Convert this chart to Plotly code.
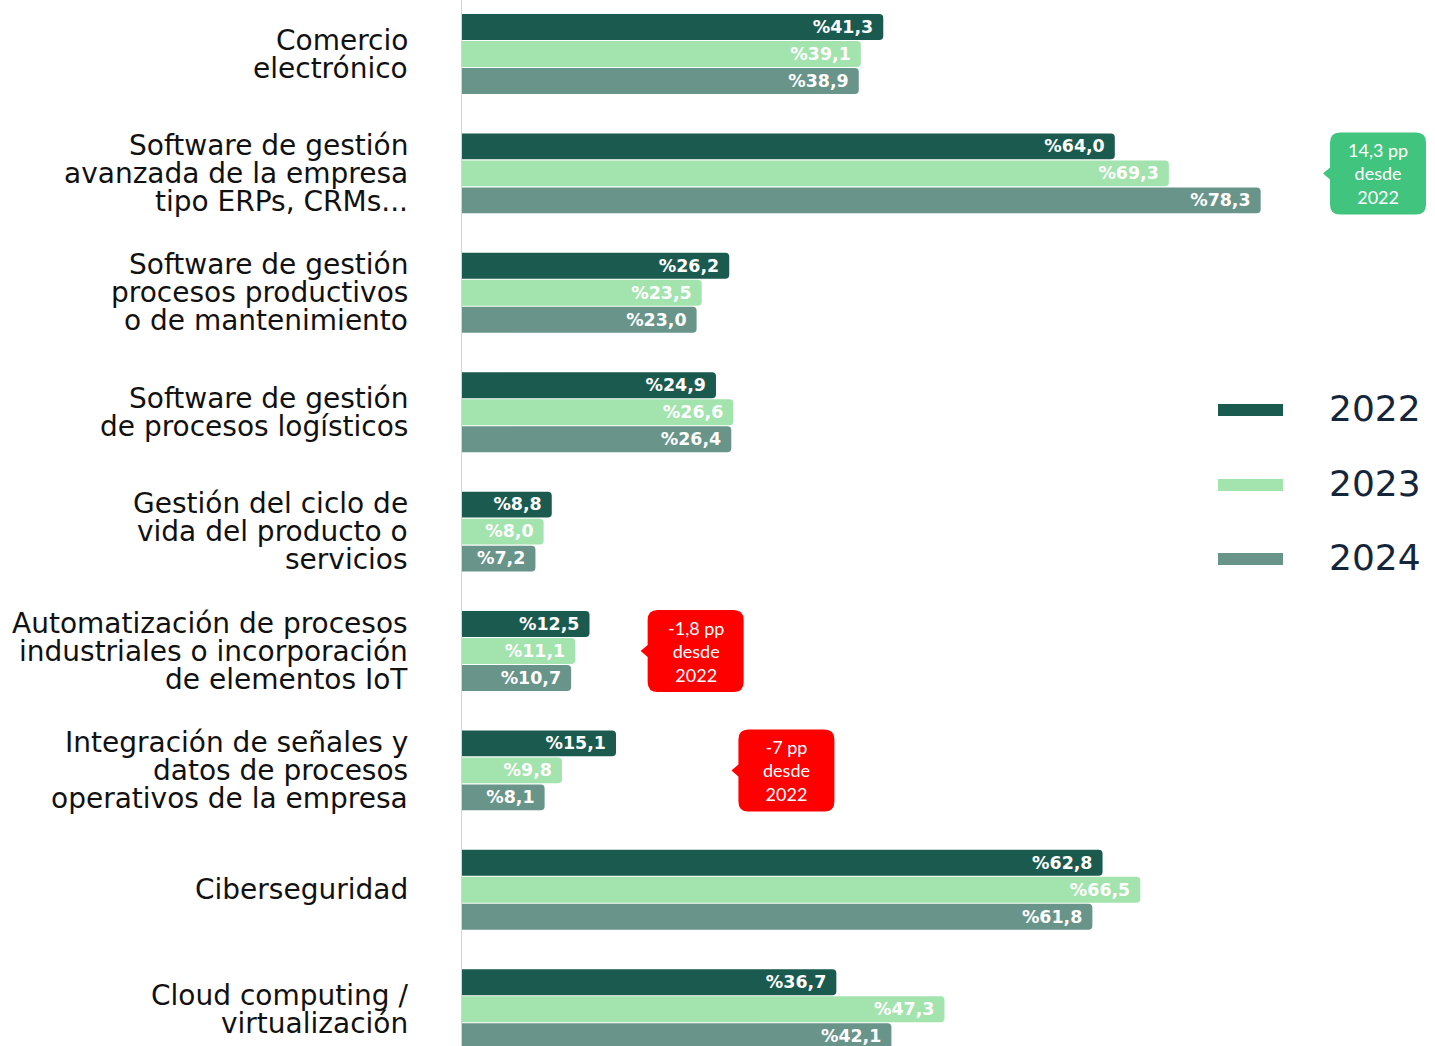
import plotly.graph_objects as go

# ---------------- data ----------------
categories = [
    ["Comercio", "electrónico"],
    ["Software de gestión", "avanzada de la empresa", "tipo ERPs, CRMs..."],
    ["Software de gestión", "procesos productivos", "o de mantenimiento"],
    ["Software de gestión", "de procesos logísticos"],
    ["Gestión del ciclo de", "vida del producto o", "servicios"],
    ["Automatización de procesos", "industriales o incorporación", "de elementos IoT"],
    ["Integración de señales y", "datos de procesos", "operativos de la empresa"],
    ["Ciberseguridad"],
    ["Cloud computing /", "virtualización"],
]
years = ["2022", "2023", "2024"]
values_2022 = [41.3, 64.0, 26.2, 24.9, 8.8, 12.5, 15.1, 62.8, 36.7]
values_2023 = [39.1, 69.3, 23.5, 26.6, 8.0, 11.1, 9.8, 66.5, 47.3]
values_2024 = [38.9, 78.3, 23.0, 26.4, 7.2, 10.7, 8.1, 61.8, 42.1]
series = [values_2022, values_2023, values_2024]
colors = ["#1b5a4f", "#a3e3ad", "#689489"]

# callouts: (category index, x position in data units, colour)
callout_groups = [1, 5, 6]
callout_x = [85.1, 18.2, 27.1]
callout_colors = ["#41c47d", "#ff0000", "#ff0000"]

W, H = 1435, 1046
AXIS_PX = 462
SCALE = 10.2  # px per unit
FIRST_CENTER_PX = 54
GROUP_PITCH_PX = 119.4

cat_names = [" ".join(c) for c in categories]


def fmt(v):
    s = f"{v:.1f}".replace(".", ",")
    return "%" + s


fig = go.Figure()
for yr, vals, col in zip(years, series, colors):
    fig.add_trace(go.Bar(
        y=cat_names, x=vals, orientation="h", name=yr,
        marker=dict(color=col, line=dict(width=0)),
        text=[fmt(v) + "\u00a0" for v in vals],
        textposition="inside", insidetextanchor="end", textangle=0,
        constraintext="none",
        textfont=dict(family="DejaVu Sans", size=21, color="white", weight="bold"),
        showlegend=False,
    ))

annotations = []
shapes = []

# category labels (one annotation per line, tight line spacing)
for cat, name in zip(categories, cat_names):
    n = len(cat)
    for j, line in enumerate(cat):
        annotations.append(dict(
            xref="paper", yref="y", x=410 / W, y=name, xanchor="right", yanchor="middle",
            yshift=-(j - (n - 1) / 2) * 28, text=line, showarrow=False,
            font=dict(family="DejaVu Sans", size=28, color="#111111"),
        ))

# callouts
bw, bh, r = 96, 82, 10
hh = bh / 2
callout_path = (
    f"M {r},{-hh} L {bw - r},{-hh} Q {bw},{-hh} {bw},{-hh + r} "
    f"L {bw},{hh - r} Q {bw},{hh} {bw - r},{hh} L {r},{hh} Q 0,{hh} 0,{hh - r} "
    f"L 0,6 L -7,0 L 0,-6 L 0,{-hh + r} Q 0,{-hh} {r},{-hh} Z"
)
for gi, cx, cc in zip(callout_groups, callout_x, callout_colors):
    diff = values_2024[gi] - values_2022[gi]
    d = f"{diff:.1f}".replace(".", ",")
    if d.endswith(",0"):
        d = d[:-2]
    shapes.append(dict(
        type="path", xref="x", yref="y", xsizemode="pixel", ysizemode="pixel",
        xanchor=cx, yanchor=cat_names[gi], path=callout_path,
        fillcolor=cc, line=dict(width=0), layer="above",
    ))
    annotations.append(dict(
        xref="x", yref="y", x=cx, y=cat_names[gi], xshift=bw / 2, xanchor="center",
        yanchor="middle", showarrow=False,
        text=f"{d} pp<br>desde<br>2022",
        font=dict(family="Lato", size=18, color="white"),
    ))

# custom legend
legend_y = [410, 485, 559]
for yr, col, py in zip(years, colors, legend_y):
    shapes.append(dict(
        type="rect", xref="paper", yref="paper",
        x0=1218 / W, x1=1283 / W, y0=1 - (py + 6) / H, y1=1 - (py - 6) / H,
        fillcolor=col, line=dict(width=0),
    ))
    annotations.append(dict(
        xref="paper", yref="paper", x=1327 / W, y=1 - (py - 2) / H, xanchor="left",
        yanchor="middle", showarrow=False, text=yr,
        font=dict(family="DejaVu Sans", size=36, color="#15263b"),
    ))

n = len(categories)
y_top = -FIRST_CENTER_PX / GROUP_PITCH_PX
y_bot = y_top + H / GROUP_PITCH_PX

fig.update_layout(
    width=W, height=H,
    margin=dict(l=0, r=0, t=0, b=0),
    paper_bgcolor="white", plot_bgcolor="white",
    barmode="group", bargap=0.322, bargroupgap=0.04,
    barcornerradius=4,
    xaxis=dict(domain=[AXIS_PX / W, 1], range=[0, (W - AXIS_PX) / SCALE],
               showgrid=False, zeroline=False, showticklabels=False, showline=False),
    yaxis=dict(type="category", categoryorder="array", categoryarray=cat_names,
               range=[y_bot, y_top], showgrid=False, zeroline=False,
               showticklabels=False, showline=True, linecolor="#d4d4d4", linewidth=1,
               ticks=""),
    annotations=annotations, shapes=shapes,
)

fig.write_html(
    "out.html",
    config={"displayModeBar": False},
    post_script="document.body.style.margin='0px';document.body.style.overflow='hidden';",
)
